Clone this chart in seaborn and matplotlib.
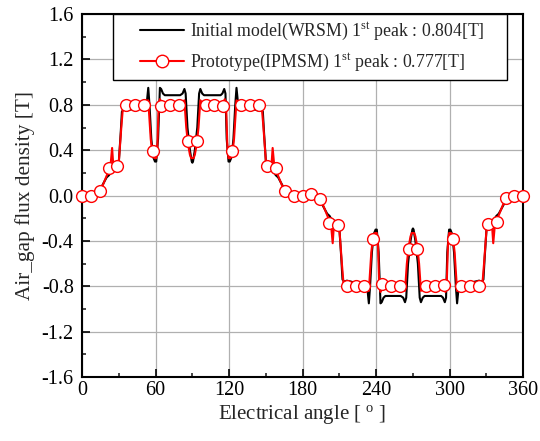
import matplotlib
matplotlib.use('Agg')
import matplotlib.pyplot as plt
import seaborn as sns
import numpy as np
from matplotlib.lines import Line2D
from matplotlib.legend_handler import HandlerLine2D
from matplotlib.ticker import MultipleLocator, FormatStrFormatter

# black curve: initial model (WRSM), (angle, B) breakpoints
wrsm_pts = [(0, 0.0), (8, 0.0), (13, 0.02), (17, 0.1), (20, 0.16), (22, 0.18), (24, 0.22),
            (25, 0.29), (26, 0.22), (28, 0.25), (30, 0.3), (31.5, 0.55), (32.5, 0.74), (34, 0.76),
            (36, 0.75), (40, 0.76), (45, 0.78), (50, 0.79), (52, 0.8), (53, 0.84), (54, 0.95),
            (55, 0.8), (56.5, 0.5), (58, 0.34), (59.5, 0.3), (60.5, 0.3), (62, 0.5), (63.5, 0.95),
            (64.5, 0.94), (66, 0.9), (67.5, 0.885), (80, 0.885), (82, 0.9), (83.5, 0.94),
            (84.5, 0.9), (86, 0.6), (88, 0.4), (89.5, 0.3), (90, 0.29), (90.5, 0.3), (92, 0.4),
            (94, 0.6), (95.5, 0.9), (96.5, 0.94), (98, 0.9), (99.5, 0.885), (113, 0.885),
            (114.5, 0.9), (116, 0.94), (117, 0.9), (118, 0.5), (119.5, 0.3), (120.5, 0.3),
            (122, 0.34), (123.5, 0.5), (125, 0.8), (126, 0.95), (127, 0.84), (128, 0.8),
            (130, 0.79), (135, 0.78), (140, 0.76), (144, 0.75), (146, 0.76), (147.5, 0.74),
            (148.5, 0.55), (150, 0.3), (152, 0.25), (154, 0.22), (155, 0.29), (156, 0.22),
            (158, 0.18), (160, 0.16), (163, 0.1), (167, 0.02), (172, 0.0),
            (180, 0.0), (188, 0.0), (193, -0.02), (197, -0.1), (200, -0.16), (202, -0.18),
            (204, -0.22), (205, -0.29), (206, -0.22), (208, -0.25), (210, -0.3), (211.5, -0.55),
            (212.5, -0.74), (214, -0.76), (216, -0.75), (220, -0.76), (225, -0.78), (230, -0.79),
            (232, -0.8), (233, -0.84), (234, -0.95), (235, -0.8), (236.5, -0.5), (238, -0.34),
            (239.5, -0.3), (240.5, -0.3), (242, -0.5), (243.5, -0.95), (244.5, -0.94),
            (246, -0.9), (247.5, -0.885), (260, -0.885), (262, -0.9), (263.5, -0.94),
            (264.5, -0.9), (266, -0.6), (268, -0.4), (269.5, -0.3), (270, -0.29), (270.5, -0.3),
            (272, -0.4), (274, -0.6), (275.5, -0.9), (276.5, -0.94), (278, -0.9), (279.5, -0.885),
            (293, -0.885), (294.5, -0.9), (296, -0.94), (297, -0.9), (298, -0.5), (299.5, -0.3),
            (300.5, -0.3), (302, -0.34), (303.5, -0.5), (305, -0.8), (306, -0.95), (307, -0.84),
            (308, -0.8), (310, -0.79), (315, -0.78), (320, -0.76), (324, -0.75), (326, -0.76),
            (327.5, -0.74), (328.5, -0.55), (330, -0.3), (332, -0.25), (334, -0.22), (335, -0.29),
            (336, -0.22), (338, -0.18), (340, -0.16), (343, -0.1), (347, -0.02), (352, 0.0),
            (360, 0.0)]

# red curve: prototype (IPMSM)
ipm_pts = [(0, 0.0), (12, 0.0), (15, 0.04), (18, 0.12), (21, 0.2), (23, 0.24), (24.5, 0.42),
           (25.5, 0.26), (29, 0.27), (30, 0.3), (32, 0.6), (33.5, 0.8), (34, 0.81), (52, 0.81),
           (53, 0.83), (54, 0.84), (56, 0.5), (57.5, 0.36), (59, 0.33), (60.5, 0.33), (61.5, 0.45),
           (62.5, 0.8), (63.5, 0.85), (65, 0.82), (67, 0.8), (80, 0.8), (82, 0.82), (83.5, 0.84),
           (85, 0.6), (86.5, 0.45), (88, 0.36), (89, 0.33), (91, 0.33), (92, 0.36), (93.5, 0.45),
           (95, 0.6), (96.5, 0.84), (98, 0.82), (100, 0.8), (113, 0.8), (115, 0.82), (116.5, 0.85),
           (117.5, 0.8), (118.5, 0.45), (119.5, 0.33), (121, 0.33), (122.5, 0.36), (124, 0.5),
           (126, 0.84), (127, 0.83), (128, 0.81), (146, 0.81), (146.5, 0.8), (148, 0.6),
           (150, 0.3), (151, 0.27), (154.5, 0.26), (155.5, 0.42), (157, 0.24), (159, 0.2),
           (162, 0.12), (165, 0.04), (168, 0.0),
           (180, 0.0), (192, 0.0), (195, -0.04), (198, -0.12), (201, -0.2), (203, -0.24),
           (204.5, -0.42), (205.5, -0.26), (209, -0.27), (210, -0.3), (212, -0.6), (213.5, -0.8),
           (214, -0.81), (232, -0.81), (233, -0.83), (234, -0.84), (236, -0.5), (237.5, -0.36),
           (239, -0.33), (240.5, -0.33), (241.5, -0.45), (242.5, -0.8), (243.5, -0.85),
           (245, -0.82), (247, -0.8), (260, -0.8), (262, -0.82), (263.5, -0.84), (265, -0.6),
           (266.5, -0.45), (268, -0.36), (269, -0.33), (271, -0.33), (272, -0.36), (273.5, -0.45),
           (275, -0.6), (276.5, -0.84), (278, -0.82), (280, -0.8), (293, -0.8), (295, -0.82),
           (296.5, -0.85), (297.5, -0.8), (298.5, -0.45), (299.5, -0.33), (301, -0.33),
           (302.5, -0.36), (304, -0.5), (306, -0.84), (307, -0.83), (308, -0.81), (326, -0.81),
           (326.5, -0.8), (328, -0.6), (330, -0.3), (331, -0.27), (334.5, -0.26), (335.5, -0.42),
           (337, -0.24), (339, -0.2), (342, -0.12), (345, -0.04), (348, 0.0), (360, 0.0)]

# open circle markers on the red curve (every 7.2 deg)
mark_angle = [0, 7.2, 14.4, 21.6, 28.8, 36, 43.2, 50.4, 57.6, 64.8, 72, 79.2, 86.4, 93.6, 100.8,
              108, 115.2, 122.4, 129.6, 136.8, 144, 151.2, 158.4, 165.6, 172.8, 180, 187.2, 194.4,
              201.6, 208.8, 216, 223.2, 230.4, 237.6, 244.8, 252, 259.2, 266.4, 273.6, 280.8, 288,
              295.2, 302.4, 309.6, 316.8, 324, 331.2, 338.4, 345.6, 352.8, 360]
mark_b = [0.0, 0.0, 0.04, 0.24, 0.26, 0.8, 0.8, 0.8, 0.39, 0.79, 0.8, 0.8, 0.48, 0.48, 0.8, 0.8,
          0.79, 0.39, 0.8, 0.8, 0.8, 0.26, 0.24, 0.04, 0.0, 0.0, 0.01, -0.03, -0.24, -0.26, -0.8,
          -0.8, -0.8, -0.38, -0.78, -0.8, -0.8, -0.47, -0.47, -0.8, -0.8, -0.79, -0.38, -0.8, -0.8,
          -0.8, -0.25, -0.23, -0.02, 0.0, 0.0]

legend_labels = ["Initial model(WRSM) 1$^{\\mathrm{st}}$ peak : 0.804[T]",
                 "Prototype(IPMSM) 1$^{\\mathrm{st}}$ peak : 0.777[T]"]

wrsm_angle, wrsm_b = zip(*wrsm_pts)
ipm_angle, ipm_b = zip(*ipm_pts)


class IndentedLine(HandlerLine2D):
    '''legend line that starts a bit to the right, like the original plot'''
    def get_xdata(self, legend, xdescent, ydescent, width, height, fontsize):
        shift = 14
        xdata = np.array([-xdescent + shift, -xdescent + width])
        return xdata, np.array([xdata.mean()])


sns.set_style("whitegrid")
plt.rcParams['font.family'] = ['Liberation Serif', 'DejaVu Serif']
plt.rcParams['mathtext.fontset'] = 'custom'
plt.rcParams['mathtext.rm'] = 'Liberation Serif'
plt.rcParams['mathtext.it'] = 'Liberation Serif:italic'
plt.rcParams['axes.unicode_minus'] = False

fig = plt.figure(figsize=(5.4, 4.41), dpi=100)
ax = fig.add_axes([0.152, 0.145, 0.817, 0.823])

sns.lineplot(x=list(wrsm_angle), y=list(wrsm_b), color="black", lw=1.5, estimator=None,
             ax=ax, zorder=3)
sns.lineplot(x=list(ipm_angle), y=list(ipm_b), color="red", lw=1.5, estimator=None,
             ax=ax, zorder=4)
sns.scatterplot(x=mark_angle, y=mark_b, s=72, facecolor="white", edgecolor="red",
                linewidth=1.0, ax=ax, zorder=5, clip_on=False)

ax.set_xlim(0, 360)
ax.set_ylim(-1.6, 1.6)
ax.xaxis.set_major_locator(MultipleLocator(60))
ax.xaxis.set_minor_locator(MultipleLocator(30))
ax.yaxis.set_major_locator(MultipleLocator(0.4))
ax.yaxis.set_minor_locator(MultipleLocator(0.2))
ax.yaxis.set_major_formatter(FormatStrFormatter("%.1f"))
ax.grid(True, which="major", color="#b0b0b0", lw=0.9)
ax.grid(False, which="minor")
for s in ax.spines.values():
    s.set_color("black")
    s.set_linewidth(1.5)
ax.tick_params(which="major", direction="in", length=6, width=1.2, labelsize=14.5,
               colors="black", left=True, bottom=True)
ax.tick_params(axis="y", which="major", pad=6)
ax.tick_params(axis="x", which="major", pad=3)
ax.tick_params(which="minor", direction="in", length=3, width=1.2, left=True, bottom=True)

ax.set_xlabel("Electrical angle [ $^{\\mathrm{o}}$ ]", fontsize=15, labelpad=2)
ax.set_ylabel("Air_gap flux density [T]", fontsize=15.3, labelpad=5)

handles = [Line2D([], [], color="black", lw=1.5),
           Line2D([], [], color="red", lw=1.5, marker="o", ms=9, mfc="white", mec="red", mew=1.0)]
leg = ax.legend(handles, legend_labels, loc="upper left",
                bbox_to_anchor=(0.0703, 0.0, 0.893, 1.0), mode="expand", fontsize=12.8,
                frameon=True, fancybox=False, framealpha=1, edgecolor="black",
                handlelength=3.6, borderpad=0.4, labelspacing=0.55, handletextpad=0.3,
                borderaxespad=0, handler_map={Line2D: IndentedLine()})
leg.get_frame().set_linewidth(1.0)

fig.savefig("out.png", dpi=100)
